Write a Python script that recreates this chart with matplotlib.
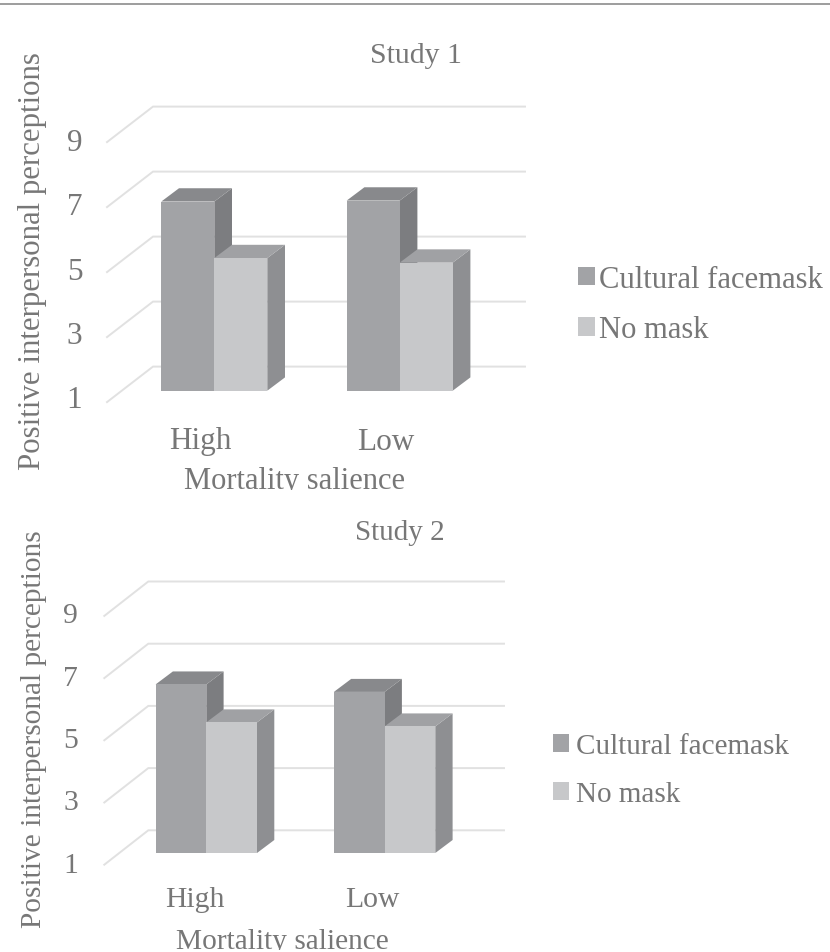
import matplotlib
matplotlib.use("Agg")
import matplotlib.pyplot as plt
from matplotlib.patches import Patch, Polygon
from matplotlib.transforms import Affine2D, Bbox

W, H = 830, 953
plt.rcParams['font.family'] = ['Liberation Serif', 'DejaVu Serif']

groups = ["High", "Low"]
series_names = ["Cultural facemask", "No mask"]
study1_mask = [6.82, 6.85]
study1_nomask = [5.08, 4.94]
study2_mask = [6.42, 6.18]
study2_nomask = [5.20, 5.07]
y_ticks = [1, 3, 5, 7, 9]
x_title = "Mortality salience"
y_title = "Positive interpersonal perceptions"

FRONT = ["#A2A3A6", "#C7C8CA"]
SIDE = ["#7C7D80", "#8E8F92"]
TOP = ["#88898C", "#A0A1A4"]
GRID = "#E1E1E1"
TEXT = "#777777"

px = Affine2D().scale(1, -1).translate(0, H)
fig = plt.figure(figsize=(W / 100, H / 100), dpi=100, facecolor="white")


def panel(title, mask, nomask, g):
    x0, x1, y0, y1 = g["rect"]
    ax = fig.add_axes([x0 / W, 1 - y1 / H, (x1 - x0) / W, (y1 - y0) / H])
    ax.patch.set_alpha(0)
    ux, uy = g["ux"], g["uy"]
    ax.set_xlim((x0 - g["cx"]) / ux, (x1 - g["cx"]) / ux)
    ax.set_ylim(1 - (y1 - g["base"]) / uy, 1 + (g["base"] - y0) / uy)
    for s in ax.spines.values():
        s.set_visible(False)

    # wall gridlines and floor diagonals
    wall_dy = (g["base"] - g["wall1"]) / uy
    front_dy = (g["front1"] - g["base"]) / uy
    wl, wr, fl = [(v - g["cx"]) / ux for v in (g["wallx0"], g["wallx1"], g["frontx"])]
    for v in y_ticks:
        ax.plot([fl, wl, wr], [v - front_dy, v + wall_dy, v + wall_dy],
                color=GRID, lw=1.4, zorder=1, solid_joinstyle="miter", clip_on=False)

    # 3-D bars
    bw = g["bw"] / ux
    dx, dy = g["dx"] / ux, g["dy"] / uy
    for i, vals in enumerate((mask, nomask)):
        offs = [k + (i - 0.5) * bw for k in range(2)]
        for xc, v in zip(offs, vals):
            l, r = xc - bw / 2, xc + bw / 2
            z = 3 + i
            ax.add_patch(Polygon([(r, 1), (r + dx, 1 + dy), (r + dx, v + dy), (r, v)],
                                 fc=SIDE[i], ec="none", zorder=z))
            ax.add_patch(Polygon([(l, v), (l + dx, v + dy), (r + dx, v + dy), (r, v)],
                                 fc=TOP[i], ec="none", zorder=z))
        ax.bar(offs, [v - 1 for v in vals], bw, bottom=1, color=FRONT[i], zorder=3 + i)

    # axes text
    ax.set_xticks([k + g["tickx"] / ux for k in range(2)], groups)
    ax.set_yticks([v - g["ticky"](v) / uy for v in y_ticks], [str(v) for v in y_ticks])
    ax.tick_params(length=0, labelcolor=TEXT)
    ax.tick_params(axis="x", pad=g["xpad"], labelsize=g["tfs"])
    ax.tick_params(axis="y", pad=g["ypad"], labelsize=g["tfs"])

    ax.set_xlabel(x_title, fontsize=g["xfs"], color=TEXT, va="center")
    ax.xaxis.set_label_coords(g["xlab"][0], g["xlab"][1], transform=px)
    ax.xaxis.label.set_clip_box(Bbox.from_extents(0, H - g["clip"], W, H))
    ax.xaxis.label.set_clip_on(True)

    ax.set_ylabel(y_title, fontsize=g["yfs"], color=TEXT, va="center")
    ax.yaxis.set_label_coords(g["ylab"][0], g["ylab"][1], transform=px)

    fig.text(g["title"][0] / W, 1 - g["title"][1] / H, title, fontsize=g["fs"],
             color=TEXT, ha="center", va="center")

    handles = [Patch(fc=c, ec="none") for c in FRONT]
    fig.legend(handles, series_names, loc="upper left",
               bbox_to_anchor=(g["leg"][0] / W, 1 - g["leg"][1] / H),
               frameon=False, fontsize=g["lfs"], labelcolor=TEXT,
               handlelength=0.55, handleheight=0.55, handletextpad=g["htp"],
               labelspacing=g["lsp"], borderpad=0, borderaxespad=0)
    return ax


G1 = dict(rect=(90, 530, 90, 415), cx=214.3, ux=185.4, uy=32.5, base=391.7, wall1=367.6,
          front1=403.1, wallx0=153, wallx1=525, frontx=107, bw=53, dx=17.7, dy=13.3,
          tickx=-14, ticky=lambda v: 5.5 + (v - 1) * 0.35,
          fs=21.4, tfs=22.5, xfs=22, yfs=22.2, lfs=22.1, xpad=9, ypad=5.5,
          xlab=(295, 482), ylab=(33, 261), clip=491, title=(416, 56),
          leg=(578, 266), lsp=0.70, htp=0.15)
G2 = dict(rect=(85, 510, 570, 875), cx=206.3, ux=178.3, uy=31.1, base=854, wall1=831.3,
          front1=865.7, wallx0=148.3, wallx1=504, frontx=104.3, bw=50.7, dx=17.3, dy=13,
          tickx=-12, ticky=lambda v: 8.8 - (v - 1) * 0.1,
          fs=21, tfs=21.3, xfs=21.2, yfs=21.2, lfs=21, xpad=9, ypad=5,
          xlab=(282, 942), ylab=(34, 729), clip=951, title=(400, 533),
          leg=(553, 734.5), lsp=0.74, htp=0.25)

panel("Study 1", study1_mask, study1_nomask, G1)
panel("Study 2", study2_mask, study2_nomask, G2)

fig.add_artist(plt.Line2D([0, 1], [1 - 4.5 / H, 1 - 4.5 / H], color="#8C8C8C", lw=1.2))

fig.savefig("out.png", dpi=100, facecolor="white")
